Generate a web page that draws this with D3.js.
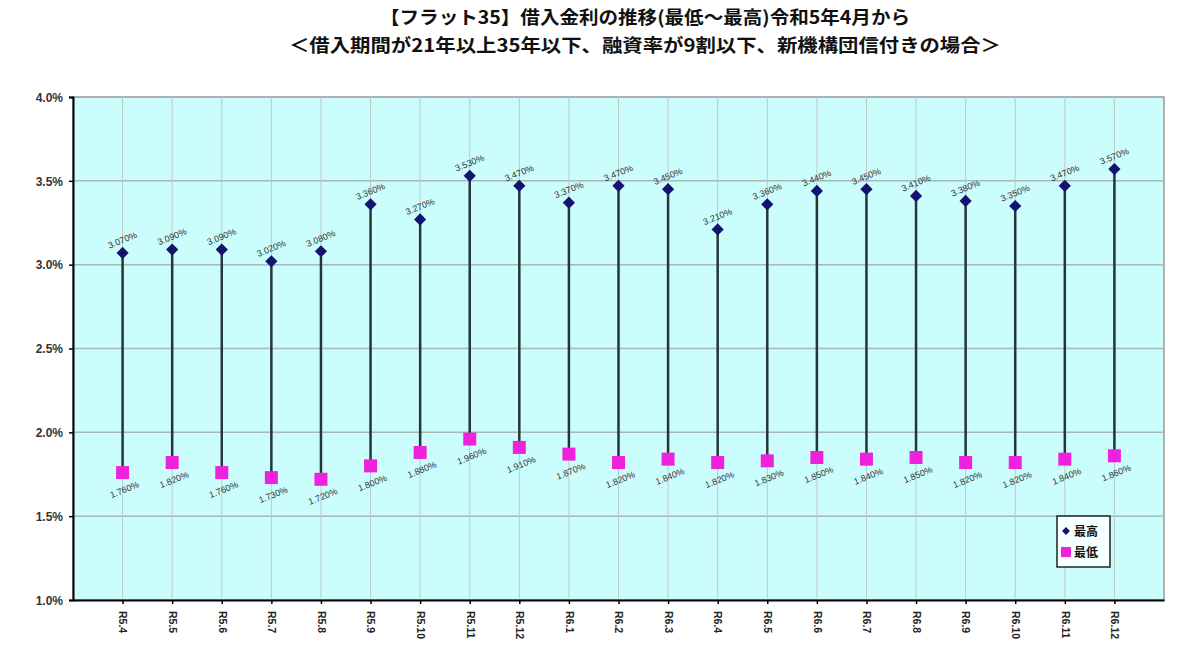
<!DOCTYPE html>
<html>
<head>
<meta charset="utf-8">
<script src="https://d3js.org/d3.v7.min.js"></script>
<style>
body { margin: 0; background: #fff; }
svg { display: block; }
.title { font-family: "Noto Sans CJK JP", sans-serif; font-weight: bold; font-size: 18px; text-anchor: middle; fill: #111; }
.ylab { font-family: "Liberation Sans", Arial, sans-serif; font-weight: bold; font-size: 12px; fill: #333; }
.xlab { font-family: "Liberation Sans", Arial, sans-serif; font-weight: bold; font-size: 10.5px; fill: #222; }
.dlab { font-family: "Liberation Sans", Arial, sans-serif; font-size: 9px; fill: #333; }
.leg { font-family: "Noto Sans CJK JP", sans-serif; font-weight: bold; font-size: 12px; fill: #111; }
</style>
</head>
<body>
<div id="chart"></div>
<script>
var width = 1200;
var height = 652;

// data
var months = ["R5.4","R5.5","R5.6","R5.7","R5.8","R5.9","R5.10","R5.11","R5.12",
  "R6.1","R6.2","R6.3","R6.4","R6.5","R6.6","R6.7","R6.8","R6.9","R6.10","R6.11","R6.12"];
var highRates = [3.07, 3.09, 3.09, 3.02, 3.08, 3.36, 3.27, 3.53, 3.47,
  3.37, 3.47, 3.45, 3.21, 3.36, 3.44, 3.45, 3.41, 3.38, 3.35, 3.47, 3.57];
var lowRates = [1.76, 1.82, 1.76, 1.73, 1.72, 1.80, 1.88, 1.96, 1.91,
  1.87, 1.82, 1.84, 1.82, 1.83, 1.85, 1.84, 1.85, 1.82, 1.82, 1.84, 1.86];
var yTicks = [1.0, 1.5, 2.0, 2.5, 3.0, 3.5, 4.0];
var titleLines = ["【フラット35】借入金利の推移(最低～最高)令和5年4月から",
  "＜借入期間が21年以上35年以下、融資率が9割以下、新機構団信付きの場合＞"];
var titleWidths = [530, 712];
var legendNames = ["最高", "最低"];

var plotLeft = 73, plotRight = 1164, plotTop = 97, plotBottom = 600;

var svg = d3.select("#chart").append("svg")
  .attr("width", width).attr("height", height);

svg.selectAll("text.title").data(titleLines).enter().append("text")
  .attr("class", "title")
  .attr("x", 645)
  .attr("y", function (d, i) { return 24 + i * 28; })
  .attr("textLength", function (d, i) { return titleWidths[i]; })
  .attr("lengthAdjust", "spacingAndGlyphs")
  .text(function (d) { return d; });

var xScale = d3.scalePoint().domain(months).range([plotLeft, plotRight]).padding(1);
var yScale = d3.scaleLinear().domain([1, 4]).range([plotBottom, plotTop]);

svg.append("rect")
  .attr("x", plotLeft).attr("y", plotTop)
  .attr("width", plotRight - plotLeft).attr("height", plotBottom - plotTop)
  .style("fill", "#ccfdfd").style("stroke", "#999").style("stroke-width", 1.5);

// gridlines
svg.append("g").selectAll("line").data(yTicks.slice(1, -1)).enter().append("line")
  .attr("x1", plotLeft).attr("x2", plotRight)
  .attr("y1", function (d) { return yScale(d); })
  .attr("y2", function (d) { return yScale(d); })
  .style("stroke", "#a8b8b8").style("stroke-width", 1.5);

svg.append("g").selectAll("line").data(months).enter().append("line")
  .attr("x1", function (d) { return xScale(d); })
  .attr("x2", function (d) { return xScale(d); })
  .attr("y1", plotTop).attr("y2", plotBottom)
  .style("stroke", "#bccaca").style("stroke-width", 1);

// axes
var yAxis = d3.axisLeft(yScale).tickValues(yTicks).tickSize(4)
  .tickFormat(function (d) { return d.toFixed(1) + "%"; });
var gy = svg.append("g").attr("transform", "translate(" + plotLeft + ",0)").call(yAxis);
gy.select(".domain").style("stroke", "#000").style("stroke-width", 2);
gy.selectAll(".tick line").style("stroke", "#000").style("stroke-width", 1.5);
gy.selectAll(".tick text").attr("class", "ylab").attr("x", -10).attr("dy", "0.35em");

var xAxis = d3.axisBottom(xScale).tickSize(4).tickSizeOuter(0);
var gx = svg.append("g").attr("transform", "translate(0," + plotBottom + ")").call(xAxis);
gx.select(".domain").style("stroke", "#000").style("stroke-width", 2);
gx.selectAll(".tick line").style("stroke", "#000").style("stroke-width", 1.5);
gx.selectAll(".tick text").attr("class", "xlab")
  .attr("transform", "rotate(90)")
  .attr("x", 11).attr("y", 0).attr("dy", "0.35em")
  .style("text-anchor", "start");

// high-low lines
svg.append("g").selectAll("line").data(months).enter().append("line")
  .attr("x1", function (d) { return xScale(d); })
  .attr("x2", function (d) { return xScale(d); })
  .attr("y1", function (d, i) { return yScale(highRates[i]); })
  .attr("y2", function (d, i) { return yScale(lowRates[i]); })
  .style("stroke", "#243636").style("stroke-width", 2.5);

// markers
svg.append("g").selectAll("path").data(months).enter().append("path")
  .attr("transform", function (d, i) { return "translate(" + xScale(d) + "," + yScale(highRates[i]) + ")"; })
  .attr("d", d3.symbol().type(d3.symbolDiamond2).size(95))
  .style("fill", "#14146e");

svg.append("g").selectAll("rect").data(months).enter().append("rect")
  .attr("x", function (d) { return xScale(d) - 6.5; })
  .attr("y", function (d, i) { return yScale(lowRates[i]) - 6.5; })
  .attr("width", 13).attr("height", 13)
  .style("fill", "#ee22dd");

// data labels
svg.append("g").selectAll("text").data(months).enter().append("text")
  .attr("class", "dlab")
  .attr("transform", function (d, i) {
    return "translate(" + (xScale(d) + 1) + "," + (yScale(highRates[i]) - 10) + ") rotate(-22)";
  })
  .style("text-anchor", "middle")
  .text(function (d, i) { return highRates[i].toFixed(3) + "%"; });

svg.append("g").selectAll("text").data(months).enter().append("text")
  .attr("class", "dlab")
  .attr("transform", function (d, i) {
    return "translate(" + (xScale(d) + 3) + "," + (yScale(lowRates[i]) + 20) + ") rotate(-22)";
  })
  .style("text-anchor", "middle")
  .text(function (d, i) { return lowRates[i].toFixed(3) + "%"; });

// legend
var lg = svg.append("g").attr("transform", "translate(1057,516)");
lg.append("rect").attr("width", 53).attr("height", 51)
  .style("fill", "#f4ffff").style("stroke", "#222").style("stroke-width", 1.5);
lg.append("path").attr("transform", "translate(9,15)")
  .attr("d", d3.symbol().type(d3.symbolDiamond2).size(40))
  .style("fill", "#14146e");
lg.append("rect").attr("x", 4).attr("y", 31).attr("width", 10).attr("height", 10)
  .style("fill", "#ee22dd");
lg.selectAll("text").data(legendNames).enter().append("text")
  .attr("class", "leg")
  .attr("x", 17)
  .attr("y", function (d, i) { return 20 + i * 21; })
  .text(function (d) { return d; });
</script>
</body>
</html>
